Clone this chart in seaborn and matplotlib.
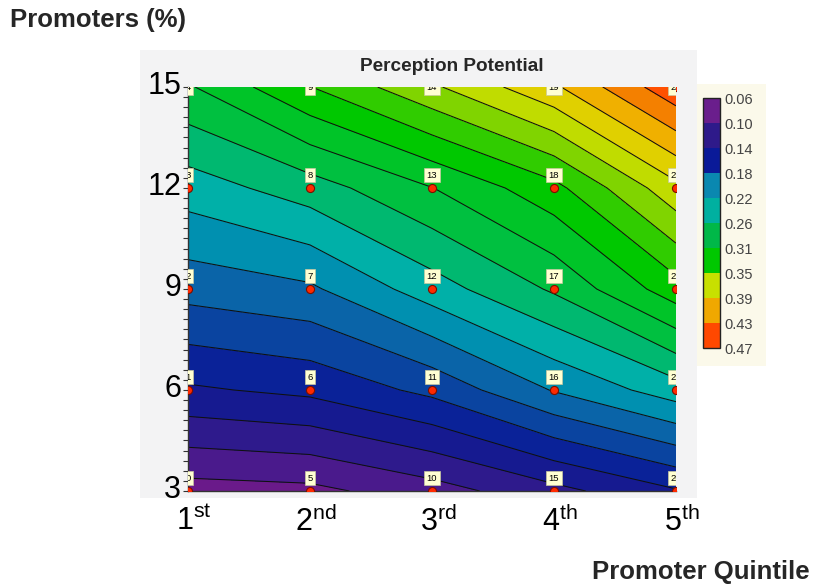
import numpy as np
import pandas as pd
import matplotlib
matplotlib.use("Agg")
import matplotlib.pyplot as plt
import matplotlib.transforms as mtransforms
from matplotlib.colors import ListedColormap, BoundaryNorm
from matplotlib.cm import ScalarMappable
from matplotlib.patches import Rectangle
from matplotlib.ticker import MultipleLocator
import seaborn as sns

# ---- data -------------------------------------------------------------
quintiles = [1, 2, 3, 4, 5]
quintile_labels = [r"1$^{\rm st}$", r"2$^{\rm nd}$", r"3$^{\rm rd}$",
                   r"4$^{\rm th}$", r"5$^{\rm th}$"]
promoter_pct = [3, 6, 9, 12, 15]
pct_labels = ["3", "6", "9", "12", "15"]

# perception potential per quintile, promoter share from 3% up to 15%
potential_q1 = [0.072, 0.139, 0.191, 0.234, 0.283]
potential_q2 = [0.075, 0.147, 0.200, 0.255, 0.326]
potential_q3 = [0.092, 0.168, 0.235, 0.285, 0.364]
potential_q4 = [0.115, 0.205, 0.268, 0.320, 0.405]
potential_q5 = [0.140, 0.235, 0.318, 0.382, 0.465]

scale_min, scale_max = 0.06, 0.47
legend_ticks = [0.06, 0.10, 0.14, 0.18, 0.22, 0.26, 0.31, 0.35, 0.39, 0.43, 0.47]

# ---- styling ----------------------------------------------------------
sns.set_theme(style="white")
plt.rcParams["font.family"] = ["Liberation Sans", "DejaVu Sans"]
plt.rcParams["mathtext.fontset"] = "custom"
plt.rcParams["mathtext.rm"] = "Liberation Sans"
plt.rcParams["mathtext.it"] = "Liberation Sans:italic"
plt.rcParams["mathtext.bf"] = "Liberation Sans:bold"

band_colors = ["#6a1a8a", "#4a1a8c", "#2e1a8c", "#161a90", "#0a2298",
               "#0a44a0", "#0a64a8", "#0090b0", "#00b0a8", "#00b870",
               "#00c040", "#00c428", "#00c800", "#30cc00", "#80d400",
               "#c0dc00", "#e0d000", "#f0b000", "#f48000", "#ff5000"]
legend_colors = ["#6a1e8c", "#2e1a8a", "#0a1a98", "#0a88b0", "#00b0a0",
                 "#00b848", "#00c800", "#c8e000", "#f0a800", "#ff4800"]

levels = np.linspace(scale_min, scale_max, len(band_colors) + 1)
cmap = ListedColormap(band_colors)
norm = BoundaryNorm(levels, cmap.N)

Z = np.column_stack([potential_q1, potential_q2, potential_q3,
                     potential_q4, potential_q5])

fig = plt.figure(figsize=(8.13, 5.86), dpi=100)
fig.patch.set_facecolor("white")

# light grey chart panel and cream legend box
fig.patches.append(Rectangle((0.1722, 0.1502), 0.6851, 0.7645,
                             transform=fig.transFigure, facecolor="#f3f3f4",
                             edgecolor="none", zorder=-10))
fig.patches.append(Rectangle((0.8573, 0.3754), 0.0849, 0.4812,
                             transform=fig.transFigure, facecolor="#fbf9ea",
                             edgecolor="none", zorder=-9))

ax = fig.add_axes([0.23124, 0.16212, 0.60025, 0.68942])
ax.contourf(quintiles, promoter_pct, Z, levels=levels, cmap=cmap, norm=norm)
ax.contour(quintiles, promoter_pct, Z, levels=levels[1:-1],
           colors="#101010", linewidths=0.75)

pts = pd.DataFrame({
    "quintile": np.repeat(quintiles, len(promoter_pct)),
    "pct": np.tile(promoter_pct, len(quintiles)),
})
pts["point"] = np.arange(len(pts))

sns.scatterplot(data=pts, x="quintile", y="pct", ax=ax, color="#ff2a00",
                edgecolor="#7a1000", linewidth=0.8, s=34, legend=False,
                zorder=3)

top = max(promoter_pct)
for _, r in pts.iterrows():
    dy = -0.5 if r["pct"] == top else 9.3
    t = ax.annotate(str(int(r["point"])), (r["quintile"], r["pct"]),
                    xytext=(0, dy), textcoords="offset points",
                    ha="center", va="center", fontsize=6.8, color="black",
                    annotation_clip=False, zorder=4,
                    bbox=dict(boxstyle="square,pad=0.25", facecolor="#ffffd2",
                              edgecolor="#c8c8a0", linewidth=0.5))
    t.set_clip_path(ax.patch)

ax.set_xlim(min(quintiles), max(quintiles))
ax.set_ylim(min(promoter_pct), max(promoter_pct))
ax.set_xticks(quintiles, quintile_labels)
ax.set_yticks(promoter_pct, pct_labels)
ax.yaxis.set_minor_locator(MultipleLocator(0.3))
ax.set_xlabel("")
ax.set_ylabel("")

ax.tick_params(axis="y", which="both", direction="out", length=3.5,
               width=0.8, color="#333333", left=True, labelsize=22, pad=1.5,
               labelcolor="black")
ax.tick_params(axis="x", length=0, labelsize=22, pad=11, labelcolor="black")
for side in ("top", "right"):
    ax.spines[side].set_visible(False)
for side in ("left", "bottom"):
    ax.spines[side].set_visible(True)
    ax.spines[side].set_color("#333333")
    ax.spines[side].set_linewidth(1.0)

# nudge tick labels: numerals sit over their ticks
xoff = mtransforms.ScaledTranslation(6 / 100, 0, fig.dpi_scale_trans)
for lab in ax.get_xticklabels():
    lab.set_transform(lab.get_transform() + xoff)
yoff = mtransforms.ScaledTranslation(0, 4 / 100, fig.dpi_scale_trans)
for lab in ax.get_yticklabels():
    lab.set_transform(lab.get_transform() + yoff)

# legend colour scale, low values on top
cax = fig.add_axes([0.8647, 0.40614, 0.02091, 0.42662])
legend_cmap = ListedColormap(legend_colors)
legend_norm = BoundaryNorm(legend_ticks, legend_cmap.N)
cb = fig.colorbar(ScalarMappable(norm=legend_norm, cmap=legend_cmap), cax=cax,
                  ticks=legend_ticks, drawedges=True)
cb.set_ticklabels([f"{v:.2f}" for v in legend_ticks])
cax.invert_yaxis()
cb.ax.tick_params(length=0, labelsize=10.5, labelcolor="#444444", pad=3)
cb.outline.set_linewidth(1.0)
cb.outline.set_edgecolor("#222222")
cb.dividers.set_linewidth(1.0)
cb.dividers.set_color("#222222")

fig.text(0.556, 0.8857, "Perception Potential", ha="center", va="center",
         fontsize=13.7, fontweight="bold")
fig.text(0.0123, 0.9659, "Promoters (%)", ha="left", va="center",
         fontsize=18.5, fontweight="bold")
fig.text(0.9963, 0.0239, "Promoter Quintile", ha="right", va="center",
         fontsize=18.5, fontweight="bold")

fig.savefig("out.png", dpi=100)
